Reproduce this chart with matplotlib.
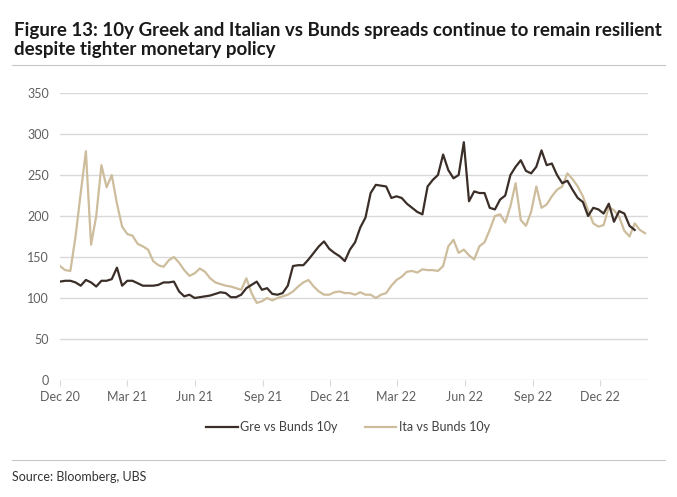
import matplotlib
matplotlib.use("Agg")
import matplotlib.pyplot as plt
import matplotlib.dates as mdates
import pandas as pd

# weekly observations, bp
start_date = "2020-12-01"

gre_vs_bunds = [
    120, 121, 121, 119, 115, 122, 119, 114, 121, 121,
    123, 137, 115, 121, 121, 118, 115, 115, 115, 116,
    119, 119, 120, 108, 102, 104, 100, 101, 102, 103,
    105, 107, 106, 101, 101, 104, 112, 116, 120, 110,
    112, 105, 104, 106, 115, 139, 140, 140, 147, 155,
    163, 169, 160, 155, 151, 145, 159, 168, 186, 198,
    228, 238, 237, 236, 222, 224, 222, 215, 210, 205,
    202, 236, 244, 250, 275, 256, 246, 250, 290, 218,
    230, 228, 228, 210, 208, 220, 225, 250, 260, 268,
    255, 252, 260, 280, 262, 264, 250, 240, 243, 232,
    222, 217, 200, 210, 208, 203, 215, 193, 206, 203,
    188, 183,
]

ita_vs_bunds = [
    139, 134, 133, 175, 228, 279, 165, 200, 262, 235,
    250, 215, 187, 178, 176, 166, 163, 159, 145, 140,
    138, 146, 150, 143, 134, 127, 130, 136, 132, 124,
    119, 117, 115, 114, 112, 110, 124, 106, 94, 96,
    100, 97, 100, 102, 104, 108, 114, 119, 122, 114,
    108, 104, 104, 107, 108, 106, 106, 104, 107, 104,
    104, 100, 104, 106, 115, 122, 126, 132, 133, 131,
    135, 134, 134, 133, 139, 163, 171, 155, 159, 152,
    147, 163, 168, 183, 200, 202, 192, 212, 240, 195,
    188, 205, 236, 210, 214, 224, 232, 236, 252, 245,
    236, 224, 207, 191, 187, 189, 211, 207, 199, 182,
    175, 191, 183, 179,
]

y_ticks = [0, 50, 100, 150, 200, 250, 300, 350]
x_ticks = ["2020-12-01", "2021-03-01", "2021-06-01", "2021-09-01", "2021-12-01",
           "2022-03-01", "2022-06-01", "2022-09-01", "2022-12-01"]

gre_dates = pd.date_range(start_date, periods=len(gre_vs_bunds), freq="7D")
ita_dates = pd.date_range(start_date, periods=len(ita_vs_bunds), freq="7D")

GRE_C = "#3b2e28"
ITA_C = "#cdbd9c"
GRID_C = "#d9d9d9"
TXT_C = "#5f5f5f"

plt.rcParams["font.family"] = ["Lato", "DejaVu Sans"]

fig = plt.figure(figsize=(6.77, 4.97), dpi=100)
ax = fig.add_axes([60 / 677, 1 - 380 / 497, (648 - 60) / 677, 287 / 497])

ax.plot(ita_dates, ita_vs_bunds, color=ITA_C, lw=1.6, label="Ita vs Bunds 10y", zorder=2)
ax.plot(gre_dates, gre_vs_bunds, color=GRE_C, lw=1.6, label="Gre vs Bunds 10y", zorder=3)

ax.set_ylim(0, 350)
ax.set_yticks(y_ticks)
ax.set_xlim(pd.Timestamp("2020-12-01"), pd.Timestamp("2023-02-04"))
ax.set_xticks(pd.to_datetime(x_ticks))
ax.xaxis.set_major_formatter(mdates.DateFormatter("%b %y"))

for v in y_ticks:
    ax.axhline(v, color=GRID_C, lw=1.0, zorder=0)
for s in ax.spines.values():
    s.set_visible(False)
ax.tick_params(axis="y", length=0, pad=8, labelsize=9, labelcolor=TXT_C)
ax.tick_params(axis="x", length=4, width=0.8, color=GRID_C, pad=4,
               labelsize=9, labelcolor=TXT_C)

handles, labels = ax.get_legend_handles_labels()
leg = ax.legend(handles[::-1], labels[::-1], loc="upper center",
                bbox_to_anchor=(0.49, -0.105), ncol=2, frameon=False,
                fontsize=9, handlelength=2.5, handletextpad=0.2,
                columnspacing=2.2)
for t in leg.get_texts():
    t.set_color("#404040")

fig.text(14 / 677, 1 - 40 / 497,
         "Figure 13: 10y Greek and Italian vs Bunds spreads continue to remain resilient\n"
         "despite tighter monetary policy",
         fontsize=13.5, fontweight="bold", color="#1a1a1a", va="center", ha="left",
         linespacing=1.1)
fig.text(12 / 677, 1 - 477 / 497, "Source: Bloomberg, UBS", fontsize=9,
         color="#333333", va="center", ha="left")

fig.add_artist(plt.Line2D([12 / 677, 665 / 677], [1 - 65 / 497] * 2, color="#c8c8c8", lw=0.8))
fig.add_artist(plt.Line2D([12 / 677, 665 / 677], [1 - 460 / 497] * 2, color="#c8c8c8", lw=0.8))

fig.savefig("out.png", dpi=100)
